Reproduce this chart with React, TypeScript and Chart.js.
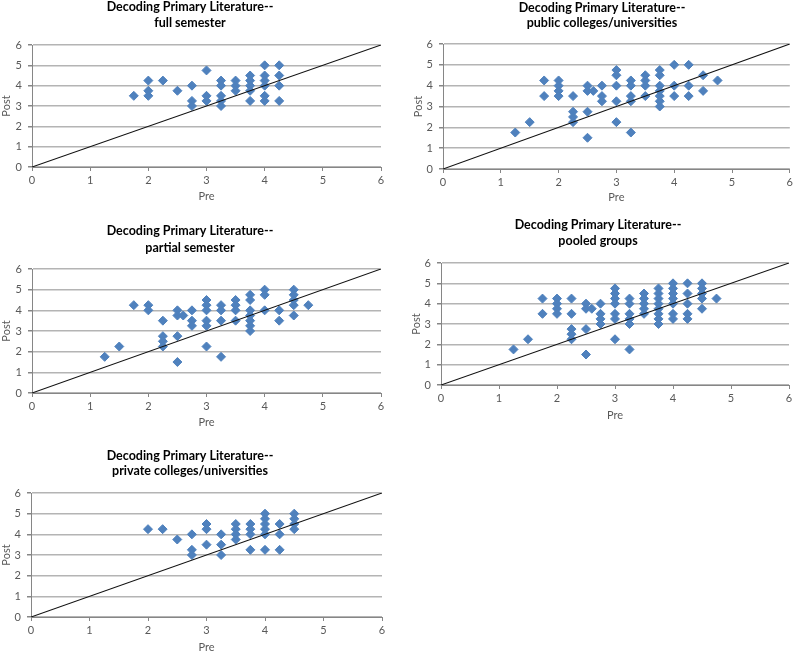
import React, { useEffect, useRef } from "react";
import { Chart, registerables } from "chart.js";

Chart.register(...registerables);

// ---------- DATA ----------
const titleTop = "Decoding Primary Literature--";

const fullPre = [1.75, 2, 2, 2, 2.25, 2.5, 2.75, 2.75, 2.75, 3, 3, 3, 3.25, 3.25, 3.25, 3.25, 3.25, 3.5, 3.5, 3.5, 3.75, 3.75, 3.75, 3.75, 3.75, 4, 4, 4, 4, 4, 4, 4.25, 4.25, 4.25, 4.25];
const fullPost = [3.5, 4.25, 3.75, 3.5, 4.25, 3.75, 4, 3.25, 3, 4.75, 3.5, 3.25, 4.25, 4, 3.5, 3.25, 3, 4.25, 4, 3.75, 4.5, 4.25, 4, 3.75, 3.25, 5, 4.5, 4.25, 4, 3.5, 3.25, 5, 4.5, 4, 3.25];

const publicPre = [1.25, 1.5, 1.75, 1.75, 2, 2, 2, 2, 2.25, 2.25, 2.25, 2.25, 2.5, 2.5, 2.5, 2.5, 2.6, 2.75, 2.75, 2.75, 3, 3, 3, 3, 3, 3.25, 3.25, 3.25, 3.25, 3.25, 3.5, 3.5, 3.5, 3.5, 3.75, 3.75, 3.75, 3.75, 3.75, 3.75, 3.75, 4, 4, 4, 4.25, 4.25, 4.25, 4.5, 4.5, 4.75];
const publicPost = [1.75, 2.25, 4.25, 3.5, 4.25, 4, 3.75, 3.5, 3.5, 2.75, 2.5, 2.25, 4, 3.75, 2.75, 1.5, 3.75, 4, 3.5, 3.25, 4.75, 4.5, 4, 3.25, 2.25, 4.25, 4, 3.5, 3.25, 1.75, 4.5, 4.25, 4, 3.5, 4.75, 4.5, 4, 3.75, 3.5, 3.25, 3, 5, 4, 3.5, 5, 4, 3.5, 4.5, 3.75, 4.25];

const partialPre = [1.25, 1.5, 1.75, 2, 2, 2.25, 2.25, 2.25, 2.25, 2.5, 2.5, 2.5, 2.5, 2.6, 2.75, 2.75, 2.75, 3, 3, 3, 3, 3, 3, 3.25, 3.25, 3.25, 3.25, 3.5, 3.5, 3.5, 3.5, 3.75, 3.75, 3.75, 3.75, 3.75, 3.75, 3.75, 4, 4, 4, 4.25, 4.25, 4.5, 4.5, 4.5, 4.5, 4.5, 4.75];
const partialPost = [1.75, 2.25, 4.25, 4.25, 4, 3.5, 2.75, 2.5, 2.25, 4, 3.75, 2.75, 1.5, 3.75, 4, 3.5, 3.25, 4.5, 4.25, 4, 3.5, 3.25, 2.25, 4.25, 4, 3.5, 1.75, 4.5, 4.25, 4, 3.5, 4.75, 4.5, 4, 3.75, 3.5, 3.25, 3, 5, 4.75, 4, 4, 3.5, 5, 4.75, 4.5, 4.25, 3.75, 4.25];

const pooledPre = [1.25, 1.5, 1.75, 1.75, 2, 2, 2, 2, 2.25, 2.25, 2.25, 2.25, 2.25, 2.5, 2.5, 2.5, 2.5, 2.6, 2.75, 2.75, 2.75, 2.75, 3, 3, 3, 3, 3, 3, 3, 3.25, 3.25, 3.25, 3.25, 3.25, 3.25, 3.5, 3.5, 3.5, 3.5, 3.5, 3.75, 3.75, 3.75, 3.75, 3.75, 3.75, 3.75, 3.75, 4, 4, 4, 4, 4, 4, 4, 4.25, 4.25, 4.25, 4.25, 4.25, 4.5, 4.5, 4.5, 4.5, 4.5, 4.75];
const pooledPost = [1.75, 2.25, 4.25, 3.5, 4.25, 4, 3.75, 3.5, 4.25, 3.5, 2.75, 2.5, 2.25, 4, 3.75, 2.75, 1.5, 3.75, 4, 3.5, 3.25, 3, 4.75, 4.5, 4.25, 4, 3.5, 3.25, 2.25, 4.25, 4, 3.5, 3.25, 3, 1.75, 4.5, 4.25, 4, 3.75, 3.5, 4.75, 4.5, 4.25, 4, 3.75, 3.5, 3.25, 3, 5, 4.75, 4.5, 4.25, 4, 3.5, 3.25, 5, 4.5, 4, 3.5, 3.25, 5, 4.75, 4.5, 4.25, 3.75, 4.25];

const privatePre = [2, 2.25, 2.5, 2.75, 2.75, 2.75, 3, 3, 3, 3.25, 3.25, 3.25, 3.5, 3.5, 3.5, 3.5, 3.75, 3.75, 3.75, 3.75, 4, 4, 4, 4, 4, 4, 4.25, 4.25, 4.25, 4.5, 4.5, 4.5, 4.5];
const privatePost = [4.25, 4.25, 3.75, 4, 3.25, 3, 4.5, 4.25, 3.5, 4, 3.5, 3, 4.5, 4.25, 4, 3.75, 4.5, 4.25, 4, 3.25, 5, 4.75, 4.5, 4.25, 4, 3.25, 4.5, 4, 3.25, 5, 4.75, 4.5, 4.25];

const identityX = [0, 6];
const identityY = [0, 6];

// ---------- STYLE ----------
const FONT = "Lato, 'Liberation Sans', sans-serif";
const MARKER = "#4F81BD";
const TEXT = "#595959";
const AXIS = "#868686";
const GRID = "#B4B4B4";

const titlePlugin = {
  id: "pageTitle",
  afterDraw(chart: any, _args: any, opts: any) {
    if (!opts || !opts.lines) return;
    const ctx = chart.ctx;
    ctx.save();
    ctx.fillStyle = "#000000";
    ctx.font = `bold ${opts.size}px ${FONT}`;
    ctx.textAlign = "center";
    ctx.textBaseline = "alphabetic";
    opts.lines.forEach((l: string, i: number) => {
      ctx.fillText(l, opts.cx, opts.baselines[i]);
    });
    ctx.restore();
  },
};

type Box = { x: number; y: number; w: number; h: number };
type Area = { l: number; t: number; r: number; b: number };

function Panel(props: {
  box: Box;
  area: Area;
  subtitle: string;
  titleCx: number;
  baselines: number[];
  pre: number[];
  post: number[];
}) {
  const ref = useRef<HTMLCanvasElement | null>(null);
  const { box, area, subtitle, titleCx, baselines, pre, post } = props;
  useEffect(() => {
    if (!ref.current) return;
    const yw = area.l - box.x;
    const xh = box.y + box.h - area.b;
    const tickFont = { family: FONT, size: 11 };
    const chart = new Chart(ref.current, {
      type: "scatter",
      data: {
        datasets: [
          {
            type: "line",
            data: identityX.map((x, i) => ({ x, y: identityY[i] })),
            borderColor: "#111111",
            borderWidth: 1.1,
            pointRadius: 0,
            fill: false,
          } as any,
          {
            type: "scatter",
            data: pre.map((x, i) => ({ x, y: post[i] })),
            pointStyle: "rectRot",
            pointRadius: 4.5,
            backgroundColor: MARKER,
            borderColor: MARKER,
            borderWidth: 1,
          } as any,
        ],
      },
      options: {
        responsive: false,
        animation: false,
        events: [],
        layout: {
          padding: { left: 0, top: area.t - box.y, right: box.x + box.w - area.r, bottom: 0 },
        },
        plugins: {
          legend: { display: false },
          tooltip: { enabled: false },
          title: { display: false },
          pageTitle: {
            lines: [titleTop, subtitle],
            cx: titleCx - box.x,
            baselines: baselines.map((b) => b - box.y),
            size: 12.5,
          },
        } as any,
        scales: {
          x: {
            type: "linear",
            min: 0,
            max: 6,
            ticks: { stepSize: 1, color: TEXT, font: tickFont, padding: 3 },
            grid: { drawOnChartArea: false, drawTicks: true, tickLength: 4, tickColor: AXIS },
            border: { display: true, color: AXIS },
            title: { display: true, text: "Pre", color: TEXT, font: tickFont, padding: 0 },
            afterFit: (s: any) => {
              s.height = xh;
            },
          },
          y: {
            type: "linear",
            min: 0,
            max: 6,
            ticks: { stepSize: 1, color: TEXT, font: tickFont, padding: 6 },
            grid: { color: GRID, lineWidth: 1.5, drawTicks: true, tickLength: 4, tickColor: AXIS },
            border: { display: true, color: AXIS },
            title: { display: true, text: "Post", color: TEXT, font: tickFont, padding: 0 },
            afterFit: (s: any) => {
              s.width = yw;
            },
          },
        },
      },
      plugins: [titlePlugin],
    } as any);
    return () => chart.destroy();
  }, []);
  return (
    <canvas
      ref={ref}
      width={box.w}
      height={box.h}
      style={{ position: "absolute", left: box.x, top: box.y, width: box.w, height: box.h }}
    />
  );
}

export default function App() {
  return (
    <div style={{ position: "absolute", left: 0, top: 0, width: 796, height: 654, background: "#fff", overflow: "hidden" }}>
      <Panel
        box={{ x: 0, y: 0, w: 395, h: 203 }}
        area={{ l: 32, t: 45, r: 381, b: 167 }}
        subtitle="full semester"
        titleCx={190}
        baselines={[11, 26.5]}
        pre={fullPre}
        post={fullPost}
      />
      <Panel
        box={{ x: 412, y: 0, w: 384, h: 204 }}
        area={{ l: 443, t: 44, r: 792, b: 169 }}
        subtitle="public colleges/universities"
        titleCx={602}
        baselines={[11.5, 26.7]}
        pre={publicPre}
        post={publicPost}
      />
      <Panel
        box={{ x: 0, y: 210, w: 395, h: 219 }}
        area={{ l: 32, t: 269, r: 381, b: 393 }}
        subtitle="partial semester"
        titleCx={190}
        baselines={[235, 251.5]}
        pre={partialPre}
        post={partialPost}
      />
      <Panel
        box={{ x: 410, y: 210, w: 386, h: 212 }}
        area={{ l: 441, t: 263, r: 789, b: 385 }}
        subtitle="pooled groups"
        titleCx={598}
        baselines={[229.3, 245]}
        pre={pooledPre}
        post={pooledPost}
      />
      <Panel
        box={{ x: 0, y: 435, w: 395, h: 219 }}
        area={{ l: 31, t: 493, r: 382, b: 617 }}
        subtitle="private colleges/universities"
        titleCx={190}
        baselines={[460, 475]}
        pre={privatePre}
        post={privatePost}
      />
    </div>
  );
}
